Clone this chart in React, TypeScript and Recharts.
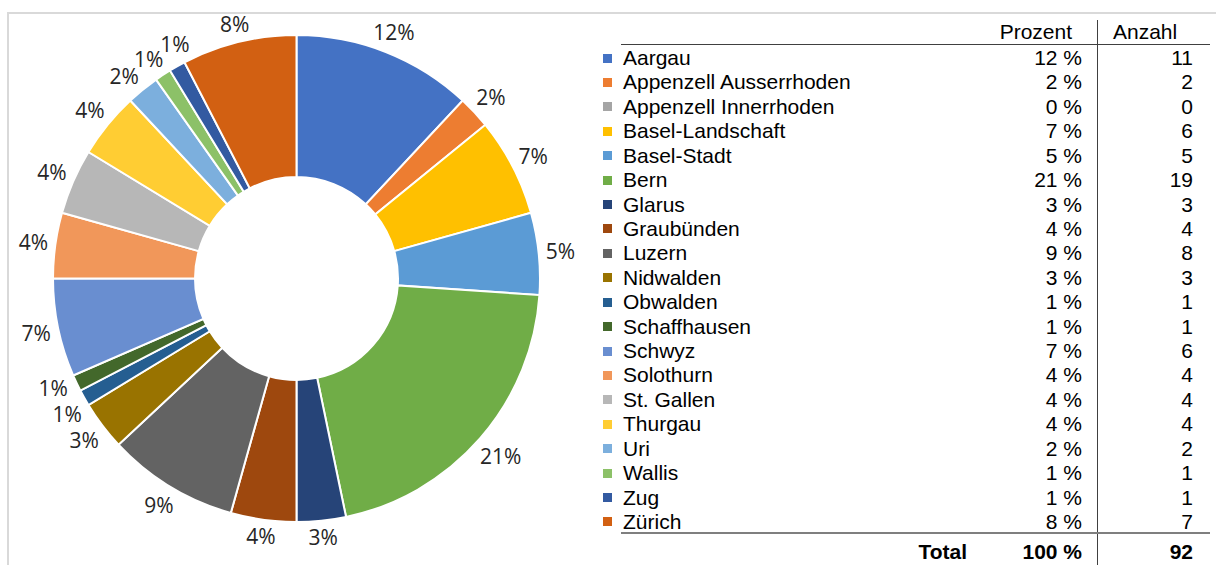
import React from 'react';
import { PieChart, Pie, Cell } from 'recharts';

const cantons = [
  'Aargau', 'Appenzell Ausserrhoden', 'Appenzell Innerrhoden', 'Basel-Landschaft', 'Basel-Stadt',
  'Bern', 'Glarus', 'Graubünden', 'Luzern', 'Nidwalden', 'Obwalden', 'Schaffhausen', 'Schwyz',
  'Solothurn', 'St. Gallen', 'Thurgau', 'Uri', 'Wallis', 'Zug', 'Zürich',
];
const counts = [11, 2, 0, 6, 5, 19, 3, 4, 8, 3, 1, 1, 6, 4, 4, 4, 2, 1, 1, 7];
const colors = [
  '#4472C4', '#ED7D31', '#A5A5A5', '#FFC000', '#5B9BD5', '#70AD47', '#264478', '#9E480E',
  '#636363', '#997300', '#255E91', '#43682B', '#698ED0', '#F1975A', '#B7B7B7', '#FFCD33',
  '#7CAFDD', '#8CC168', '#335AA1', '#D26012',
];

const total = counts.reduce((a, b) => a + b, 0);
const data = cantons.map((name, i) => ({ name, value: counts[i] }));

const RADIAN = Math.PI / 180;

// spread labels of neighbouring thin slices apart (angles clockwise from top)
const MIN_SEP = 6.5;
const midTheta: number[] = [];
let acc = 0;
counts.forEach((c) => {
  midTheta.push(((acc + c / 2) / total) * 360);
  acc += c;
});
const adjTheta = [...midTheta];
const labeled = counts.map((c, i) => (c > 0 ? i : -1)).filter((i) => i >= 0);
for (let it = 0; it < 200; it++) {
  for (let k = 0; k < labeled.length - 1; k++) {
    const a = labeled[k];
    const b = labeled[k + 1];
    const gap = adjTheta[b] - adjTheta[a];
    if (gap < MIN_SEP) {
      const d = (MIN_SEP - gap) / 2;
      adjTheta[a] -= d;
      adjTheta[b] += d;
    }
  }
}
const labelShift = adjTheta.map((t, i) => t - midTheta[i]);

const renderLabel = (props: any) => {
  const { cx, cy, midAngle, outerRadius, percent, value, index } = props;
  if (!value) return null;
  const text = `${Math.round(percent * 100)}%`;
  const angle = midAngle - (labelShift[index] || 0);
  const halfW = text.length === 3 ? 20 : 14;
  const halfH = 8;
  const ux = Math.cos(-angle * RADIAN);
  const uy = Math.sin(-angle * RADIAN);
  const r = outerRadius + 7 + Math.abs(ux) * halfW + Math.abs(uy) * halfH;
  return (
    <text
      x={cx + r * ux}
      y={cy + r * uy}
      textAnchor="middle"
      dominantBaseline="central"
      fill="#262626"
      fontSize={21}
      fontFamily="'Open Sans', sans-serif"
    >
      {text}
    </text>
  );
};

const ROW0 = 58;
const ROW_H = 24.42;
const font = "'Liberation Sans', Arial, sans-serif";

const LegendTable = () => {
  const cell: React.CSSProperties = { position: 'absolute', fontFamily: font, fontSize: 21, color: '#000', lineHeight: '24px', whiteSpace: 'nowrap' };
  return (
    <>
      <div style={{ ...cell, right: 1216 - 1072, top: 32 - 12 }}>Prozent</div>
      <div style={{ ...cell, left: 1113, top: 32 - 12 }}>Anzahl</div>
      <div style={{ position: 'absolute', left: 621, top: 44, width: 589, height: 1, background: '#404040' }} />
      <div style={{ position: 'absolute', left: 1097, top: 20, width: 1, height: 545, background: '#404040' }} />
      {cantons.map((name, i) => {
        const y = ROW0 + i * ROW_H;
        return (
          <React.Fragment key={name}>
            <div style={{ position: 'absolute', left: 603, top: y - 4.5, width: 9, height: 9, background: colors[i] }} />
            <div style={{ ...cell, left: 623, top: y - 12 }}>{name}</div>
            <div style={{ ...cell, right: 1216 - 1082, top: y - 12 }}>{`${Math.round((counts[i] / total) * 100)} %`}</div>
            <div style={{ ...cell, right: 1216 - 1193, top: y - 12 }}>{counts[i]}</div>
          </React.Fragment>
        );
      })}
      <div style={{ position: 'absolute', left: 621, top: 532, width: 589, height: 2, background: '#7F7F7F' }} />
      <div style={{ ...cell, fontWeight: 'bold', right: 1216 - 967, top: 552 - 12 }}>Total</div>
      <div style={{ ...cell, fontWeight: 'bold', right: 1216 - 1082, top: 552 - 12 }}>100 %</div>
      <div style={{ ...cell, fontWeight: 'bold', right: 1216 - 1193, top: 552 - 12 }}>{total}</div>
    </>
  );
};

export default function App() {
  return (
    <div style={{ position: 'absolute', left: 0, top: 0, width: 1216, height: 565, overflow: 'hidden', background: '#fff' }}>
      <div style={{ position: 'absolute', left: 7, top: 12, width: 1220, height: 600, border: '2px solid #D9D9D9' }} />
      <div style={{ position: 'absolute', left: 0, top: 0 }}>
        <PieChart width={600} height={565} margin={{ top: 0, right: 0, bottom: 0, left: 0 }}>
          <Pie
            data={data}
            dataKey="value"
            nameKey="name"
            cx={296.5}
            cy={278.5}
            innerRadius={101.5}
            outerRadius={243.5}
            startAngle={90}
            endAngle={-270}
            stroke="#fff"
            strokeWidth={2}
            label={renderLabel}
            labelLine={false}
            isAnimationActive={false}
          >
            {data.map((d, i) => (
              <Cell key={d.name} fill={colors[i]} />
            ))}
          </Pie>
        </PieChart>
      </div>
      <LegendTable />
    </div>
  );
}
